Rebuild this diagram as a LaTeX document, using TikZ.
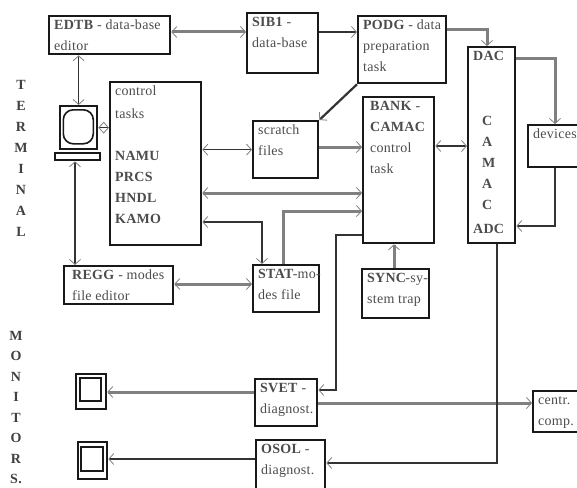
\documentclass[tikz,border=0pt]{standalone}
\usepackage{fontspec}
\setmainfont[LetterSpace=2]{Liberation Serif}
\usetikzlibrary{arrows.meta}
\newcommand{\boxbody}[3]{\parbox[c][#2pt][t]{#1pt}{\leftskip=5pt\rightskip=-20pt\parindent=0pt\vspace*{-1.5pt}\strut #3}}
\tikzset{
  unit/.style={draw=black!90,line width=2.3pt,inner sep=0pt,anchor=north west,text=black!70,font=\fontsize{14}{21}\selectfont},
  plain/.style={draw=black!90,line width=2.3pt,inner sep=0pt,anchor=north west},
  vtext/.style={align=center,inner sep=0pt,anchor=north,text=black!75,font=\fontsize{14}{21}\selectfont\bfseries},
  link/.style={draw=black!80,line width=1.3pt},
  glink/.style={draw=black!50,line width=3pt}
}
\begin{document}
\begin{tikzpicture}[x=1pt,y=-1pt,>={Straight Barb[length=5pt,width=11pt,line width=.8pt,color=black!50]}]
\useasboundingbox (0,0) rectangle (577,487);
\node[unit] (edtb) at (48,15) {\boxbody{121}{38}{\textbf{EDTB} - data-base\\editor}};
\node[unit] (sib) at (246,12) {\boxbody{71}{60}{\textbf{SIB1} -\\data-base}};
\node[unit] (podg) at (357,15) {\boxbody{88}{67}{\textbf{PODG} - data\\preparation\\task}};
\node[unit] (ctrl) at (109,81) {\boxbody{91}{163}{\vspace*{2pt}control\\tasks\\[21pt]\textbf{NAMU}\\\textbf{PRCS}\\\textbf{HNDL}\\\textbf{KAMO}}};
\node[unit] (scratch) at (252,120) {\boxbody{65}{57}{scratch\\files}};
\node[unit] (bank) at (362,96) {\boxbody{71}{146}{\hspace*{2pt}\textbf{BANK} -\\\hspace*{2pt}\textbf{CAMAC}\\\hspace*{2pt}control\\\hspace*{2pt}task}};
\node[unit] (camac) at (467,46) {\boxbody{47}{196}{\textbf{DAC}\\[44pt]\hspace*{9pt}\textbf{C}\\\hspace*{9pt}\textbf{A}\\\hspace*{9pt}\textbf{M}\\\hspace*{9pt}\textbf{A}\\\hspace*{9pt}\textbf{C}\\[3pt]\textbf{ADC}}};
\node[unit] (devices) at (527,124) {\boxbody{60}{42}{devices}};
\node[unit] (regg) at (63,265) {\boxbody{109}{38}{\hspace*{3pt}\textbf{REGG} - modes\\\hspace*{3pt}file editor}};
\node[unit] (stat) at (252,264) {\boxbody{66}{47}{\textbf{STAT}\kern-1pt-mo-\\des file}};
\node[unit] (sync) at (361,268) {\boxbody{67}{49}{\textbf{SYNC}\kern-1pt-sy-\\stem trap}};
\node[unit] (svet) at (254,378) {\boxbody{62}{47}{\textbf{SVET} -\\diagnost.}};
\node[unit] (osol) at (255,439) {\boxbody{69}{60}{\textbf{OSOL} -\\diagnost.}};
\node[unit] (centr) at (532,390) {\boxbody{50}{41}{centr.\\comp.}};
\node[plain,minimum width=37pt,minimum height=43pt] (term) at (59,105) {};
\node[plain,rounded corners=10pt,line width=1.6pt,minimum width=30pt,minimum height=34pt] (termscr) at (62.5,109) {};
\node[plain,minimum width=45pt,minimum height=7pt] (termbase) at (54,152) {};
\node[plain,minimum width=30pt,minimum height=35pt] (monone) at (75,373) {};
\node[plain,line width=1.6pt,minimum width=21pt,minimum height=23pt] (monscrone) at (79,377) {};
\node[plain,minimum width=29pt,minimum height=37pt] (montwo) at (77,441) {};
\node[plain,line width=1.6pt,minimum width=22pt,minimum height=24pt] (monscrtwo) at (80,446) {};
\node[vtext] (terminal) at (21,80) {T\\E\\R\\M\\I\\N\\A\\L};
\node[vtext,font=\fontsize{14}{20.5}\selectfont\bfseries] (monitors) at (16,331) {M\\O\\N\\I\\T\\O\\R\\S.};
\draw[glink,<->] (edtb.east |- 0,32) -- (sib.west |- 0,32);
\draw[link,<->] (term.north) -- (term.north |- edtb.south);
\draw[link,<->] (term.east) -- (ctrl.west |- term.east);
\draw[link,<->] (ctrl.east |- scratch.west) -- (scratch.west);
\draw[link,->] (sib.east |- 0,32) -- (podg.west |- 0,32);
\draw[glink,->] (podg.east |- 0,30) -| (camac.north -| 487,0);
\draw[link,line width=2.2pt,->] (podg.south west) -- (scratch.north east);
\draw[glink,->] (scratch.east |- 0,147) -- (bank.west |- 0,147);
\draw[link,<->] (bank.east |- 0,146) -- (camac.west |- 0,146);
\draw[glink,->] (camac.east |- 0,58) -| (devices.north -| 555,0);
\draw[link,->] (devices.south -| 555,0) |- (camac.east |- 0,226);
\draw[glink,<->] (ctrl.east |- 0,193) -- (bank.west |- 0,193);
\draw[glink,->] (stat.north -| 283,0) |- (bank.west |- 0,211);
\draw[link,<->] (ctrl.east |- 0,222) -| (stat.north -| 262,0);
\draw[link,->] (bank.west |- 0,235) -| (336,390) -- (svet.east |- 0,390);
\draw[glink,->] (sync.north -| 394,0) -- (bank.south -| 394,0);
\draw[link,<->] (termbase.south -| 75,0) -- (regg.north -| 75,0);
\draw[glink,<->] (regg.east |- 0,284) -- (stat.west |- 0,284);
\draw[glink,->] (svet.west |- 0,392) -- (monone.east |- 0,392);
\draw[glink,->] (svet.east |- 0,403) -- (centr.west |- 0,403);
\draw[link,->] (camac.south -| 497,0) |- (osol.east |- 0,463);
\draw[link,->] (osol.west |- 0,459) -- (montwo.east |- 0,459);
\end{tikzpicture}
\end{document}
